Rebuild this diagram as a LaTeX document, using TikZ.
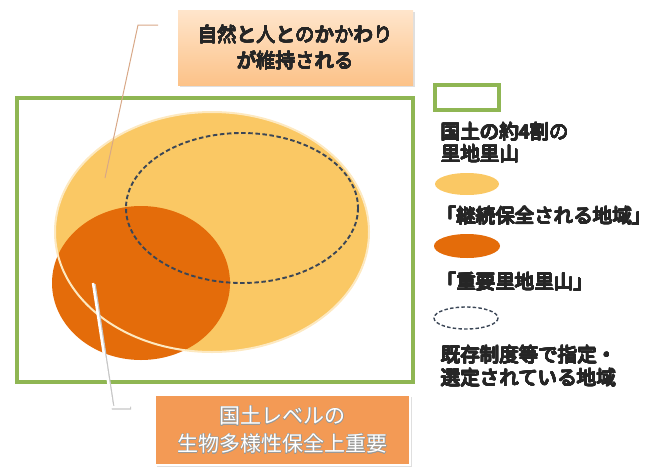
\documentclass[tikz,border=0pt]{standalone}
\usepackage{fontspec}
\newfontfamily\jp{Noto Sans CJK JP}
\usepackage{contour}
\contourlength{0.5pt}
\contournumber{16}
\newcommand\thk[1]{{\contourlength{0.4pt}\contour{txt}{#1}}}
\usetikzlibrary{shadows}
\definecolor{grn}{HTML}{8FB653}
\definecolor{lightor}{HTML}{FAC864}
\definecolor{darkor}{HTML}{E46C0A}
\definecolor{boxor}{HTML}{F39A55}
\definecolor{dashc}{HTML}{3B4656}
\definecolor{txt}{HTML}{262626}
\definecolor{leader}{HTML}{D8A887}
\tikzset{
  lbl/.style={font=\jp\fontsize{19.5}{26}\selectfont, text=txt, inner sep=0pt},
  leg/.style={lbl, anchor=west, align=left},
  yel/.style={fill=lightor, draw=none},
  org/.style={fill=darkor, draw=none},
  dsh/.style={draw=dashc, line width=1.9pt, dash pattern=on 4.5pt off 2.6pt},
  greenbox/.style={draw=grn, line width=4pt},
}
\begin{document}
\begin{tikzpicture}[x=1pt,y=-1pt]
\useasboundingbox (0,0) rectangle (653,474);
% main green frame
\draw[greenbox] (17,98) rectangle (413,382);
% ellipses
\fill[yel] (212,232) ellipse [x radius=157, y radius=120];
\fill[org] (141,283) ellipse [x radius=89, y radius=77];
\draw[draw=white!60!lightor, line width=2pt] (212,232) ellipse [x radius=157, y radius=120];
\draw[dsh] (242,208) ellipse [x radius=116, y radius=75];
% top callout
\node[lbl, align=center, minimum width=235pt, minimum height=75pt,
      top color=white!55!orange!45, bottom color=orange!45!white!95!brown,
      drop shadow={opacity=0.25, shadow xshift=1.5pt, shadow yshift=-2pt}]
  (topbox) at (295.5,47.5) {\thk{自然と人とのかかわり}\\\thk{が維持される}};
\coordinate (tl1) at (158,25);
\coordinate (tl2) at (138,25);
\coordinate (tl3) at (105,178);
\draw[leader, line width=1pt] (tl1) -- (tl2) -- (tl3);
% bottom callout
\node[lbl, align=center, minimum width=255pt, minimum height=70pt,
      fill=boxor, draw=white, line width=1.5pt, text=white,
      drop shadow={opacity=0.25, shadow xshift=1.5pt, shadow yshift=-2pt},
      font=\jp\fontsize{21}{28}\selectfont]
  (botbox) at (282.5,430) {\contour{gray!80}{国土レベルの}\\\contour{gray!80}{生物多様性保全上重要}};
\coordinate (bl1) at (93,283);
\coordinate (bl2) at (112,407);
\coordinate (bl3) at (130,407);
\draw[gray!45, line width=3pt] ([shift={(1.2,1.2)}]bl1) -- ([shift={(1.2,1.2)}]bl2) -- ([shift={(1.2,1.2)}]bl3);
\draw[white, line width=2.5pt] (bl1) -- (bl2) -- (bl3);
% legend
\draw[greenbox] (435,85) rectangle (499,110);
\node[leg] (l1) at (441,132) {\thk{国土の約4割の}};
\node[leg] (l2) at (441,154) {\thk{里地里山}};
\fill[yel] (467,184) ellipse [x radius=32, y radius=11];
\node[leg] (l3) at (437,216) {\thk{「継続保全される地域」}};
\fill[org] (467,246) ellipse [x radius=33, y radius=12];
\node[leg] (l4) at (437,282) {\thk{「重要里地里山」}};
\draw[dsh, line width=1.4pt, dash pattern=on 3.5pt off 2.2pt] (466,318) ellipse [x radius=32, y radius=11];
\node[leg] (l5) at (441,355) {\thk{既存制度等で指定・}};
\node[leg] (l6) at (441,378) {\thk{選定されている地域}};
\end{tikzpicture}
\end{document}
